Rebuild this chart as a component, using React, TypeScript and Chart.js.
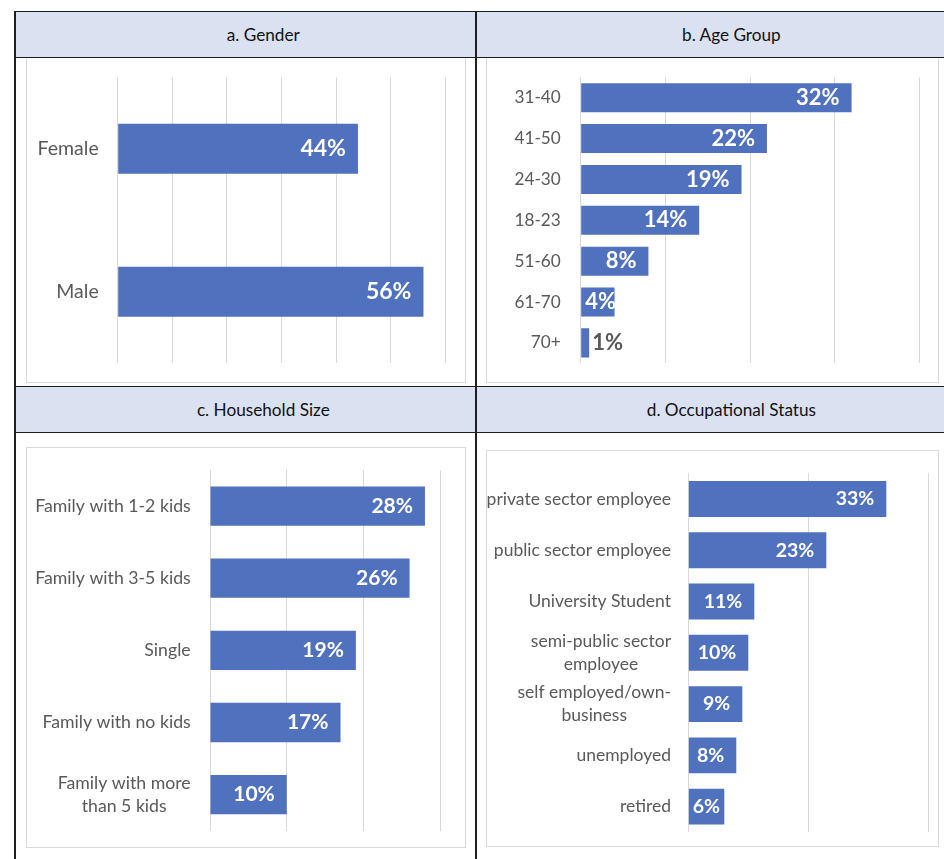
import React, { useEffect, useRef } from 'react';
import { Chart, registerables } from 'chart.js';

Chart.register(...registerables);

// ---------- data ----------
const genderLabels = ['Female', 'Male'];
const genderValues = [44, 56];
const genderAxisMax = 60;
const genderAxisStep = 10;

const ageLabels = ['31-40', '41-50', '24-30', '18-23', '51-60', '61-70', '70+'];
const ageValues = [32, 22, 19, 14, 8, 4, 1];
const ageAxisMax = 40;
const ageAxisStep = 10;

const householdLabels = [
  'Family with 1-2 kids',
  'Family with 3-5 kids',
  'Single',
  'Family with no kids',
  ['Family with more', 'than 5 kids'],
];
const householdValues = [28, 26, 19, 17, 10];
const householdAxisMax = 30;
const householdAxisStep = 10;

const occupationLabels = [
  'private sector employee',
  'public sector employee',
  'University Student',
  ['semi-public sector', 'employee'],
  ['self employed/own-', 'business'],
  'unemployed',
  'retired',
];
const occupationValues = [33, 23, 11, 10, 9, 8, 6];
const occupationAxisMax = 40;
const occupationAxisStep = 20;

const panelTitles = ['a. Gender', 'b. Age Group', 'c. Household Size', 'd. Occupational Status'];

// ---------- styles ----------
const FONT = 'Lato, "Open Sans", sans-serif';
const BAR_COLOR = '#4F71BE';
const GRID_COLOR = '#D9D9D9';
const LABEL_COLOR = '#595959';
const HEADER_BG = '#DAE2F2';
const LINE_COLOR = '#1f1f1f';

type PanelProps = {
  labels: (string | string[])[];
  values: number[];
  max: number;
  step: number;
  left: number;
  top: number;
  width: number;
  height: number;
  pad: { left: number; right: number; top: number; bottom: number };
  barPct: number;
  labelSize: number;
  valueSize: number;
  gap: number;
};

function ChartPanel(p: PanelProps) {
  const ref = useRef<HTMLCanvasElement | null>(null);
  useEffect(() => {
    const canvas = ref.current;
    if (!canvas) return;

    const categoryLabelPlugin = {
      id: 'categoryLabels',
      afterDraw(chart: any) {
        const { ctx, chartArea } = chart;
        const yScale = chart.scales.y;
        ctx.save();
        ctx.font = `${p.labelSize}px ${FONT}`;
        ctx.fillStyle = LABEL_COLOR;
        ctx.textBaseline = 'middle';
        const right = chartArea.left - p.gap;
        const lh = p.labelSize * 1.3;
        p.labels.forEach((lab, i) => {
          const y = yScale.getPixelForValue(i);
          if (Array.isArray(lab)) {
            const maxW = Math.max(...lab.map((l) => ctx.measureText(l).width));
            const cx = right - maxW / 2;
            ctx.textAlign = 'center';
            lab.forEach((l, j) => {
              ctx.fillText(l, cx, y + (j - (lab.length - 1) / 2) * lh);
            });
          } else {
            ctx.textAlign = 'right';
            ctx.fillText(lab, right, y);
          }
        });
        ctx.restore();
      },
    };

    const valueLabelPlugin = {
      id: 'valueLabels',
      afterDatasetsDraw(chart: any) {
        const { ctx } = chart;
        const meta = chart.getDatasetMeta(0);
        ctx.save();
        ctx.font = `bold ${p.valueSize}px ${FONT}`;
        ctx.textBaseline = 'middle';
        meta.data.forEach((bar: any, i: number) => {
          const text = `${p.values[i]}%`;
          const w = ctx.measureText(text).width;
          const { x, base, y } = bar.getProps(['x', 'base', 'y'], true);
          const bw = x - base;
          if (bw < w * 0.5) {
            ctx.fillStyle = LABEL_COLOR;
            ctx.textAlign = 'left';
            ctx.fillText(text, x + 3, y);
          } else if (bw < w + 16) {
            ctx.fillStyle = '#FFFFFF';
            ctx.textAlign = 'left';
            ctx.fillText(text, base + 4, y);
          } else {
            ctx.fillStyle = '#FFFFFF';
            ctx.textAlign = 'right';
            ctx.fillText(text, x - 12, y);
          }
        });
        ctx.restore();
      },
    };

    const chart = new Chart(canvas, {
      type: 'bar',
      data: {
        labels: p.labels as any,
        datasets: [
          {
            data: p.values,
            backgroundColor: BAR_COLOR,
            borderWidth: 0,
            barPercentage: p.barPct,
            categoryPercentage: 1,
          },
        ],
      },
      options: {
        indexAxis: 'y',
        responsive: false,
        animation: false,
        events: [],
        layout: { padding: p.pad },
        plugins: {
          legend: { display: false },
          tooltip: { enabled: false },
          title: { display: false },
        },
        scales: {
          x: {
            type: 'linear',
            min: 0,
            max: p.max,
            ticks: { display: false, stepSize: p.step },
            grid: { color: GRID_COLOR, lineWidth: 1, drawTicks: false },
            border: { display: false },
            afterFit: (s: any) => {
              s.height = 0;
            },
          },
          y: {
            type: 'category',
            ticks: { display: false },
            grid: { display: false, drawTicks: false },
            border: { display: false },
            afterFit: (s: any) => {
              s.width = 0;
            },
          },
        },
      },
      plugins: [valueLabelPlugin, categoryLabelPlugin],
    });
    return () => chart.destroy();
  }, []);

  return (
    <>
      <canvas
        ref={ref}
        width={p.width}
        height={p.height}
        style={{ position: 'absolute', left: p.left, top: p.top, width: p.width, height: p.height }}
      />
      <div
        style={{
          position: 'absolute',
          left: p.left,
          top: p.top,
          width: p.width - 2,
          height: p.height - 2,
          border: `1px solid ${GRID_COLOR}`,
          pointerEvents: 'none',
        }}
      />
    </>
  );
}

function HLine({ y, x1, x2 }: { y: number; x1: number; x2: number }) {
  return (
    <div style={{ position: 'absolute', left: x1, top: y - 0.75, width: x2 - x1, height: 1.5, background: LINE_COLOR }} />
  );
}
function VLine({ x, y1, y2 }: { x: number; y1: number; y2: number }) {
  return (
    <div style={{ position: 'absolute', left: x - 0.75, top: y1, width: 1.5, height: y2 - y1, background: LINE_COLOR }} />
  );
}

function Header({ text, cx, top, bottom, left, right }: any) {
  return (
    <>
      <div style={{ position: 'absolute', left, top, width: right - left, height: bottom - top, background: HEADER_BG }} />
      <div
        style={{
          position: 'absolute',
          left: cx - 200,
          width: 400,
          top,
          height: bottom - top,
          display: 'flex',
          alignItems: 'center',
          justifyContent: 'center',
          fontFamily: FONT,
          fontSize: 17.2,
          color: '#111',
          whiteSpace: 'nowrap',
        }}
      >
        {text}
      </div>
    </>
  );
}

export default function App() {
  return (
    <div style={{ position: 'absolute', left: 0, top: 0, width: 944, height: 859, background: '#fff', overflow: 'hidden' }}>
      <Header text={panelTitles[0]} cx={263.3} top={11.7} bottom={57.3} left={15} right={476} />
      <Header text={panelTitles[1]} cx={731.4} top={11.7} bottom={57.3} left={476} right={944} />
      <Header text={panelTitles[2]} cx={263.3} top={386.7} bottom={432.3} left={15} right={476} />
      <Header text={panelTitles[3]} cx={731.4} top={386.7} bottom={432.3} left={476} right={944} />

      <ChartPanel
        labels={genderLabels}
        values={genderValues}
        max={genderAxisMax}
        step={genderAxisStep}
        left={26}
        top={57}
        width={440}
        height={326}
        pad={{ left: 91.7, right: 20.7, top: 20.3, bottom: 19.7 }}
        barPct={0.35}
        labelSize={19.5}
        valueSize={23}
        gap={19}
      />
      <ChartPanel
        labels={ageLabels}
        values={ageValues}
        max={ageAxisMax}
        step={ageAxisStep}
        left={486}
        top={57}
        width={453}
        height={326}
        pad={{ left: 94.7, right: 19.7, top: 20.3, bottom: 19.7 }}
        barPct={0.71}
        labelSize={17.2}
        valueSize={22}
        gap={20}
      />
      <ChartPanel
        labels={householdLabels}
        values={householdValues}
        max={householdAxisMax}
        step={householdAxisStep}
        left={26}
        top={447}
        width={440}
        height={401}
        pad={{ left: 184, right: 25.7, top: 23, bottom: 17.3 }}
        barPct={0.545}
        labelSize={17.7}
        valueSize={21}
        gap={19.3}
      />
      <ChartPanel
        labels={occupationLabels}
        values={occupationValues}
        max={occupationAxisMax}
        step={occupationAxisStep}
        left={486}
        top={450}
        width={453}
        height={397}
        pad={{ left: 202.3, right: 10.7, top: 23.3, bottom: 14.7 }}
        barPct={0.7}
        labelSize={17.5}
        valueSize={19.5}
        gap={17.3}
      />

      <HLine y={11.7} x1={14.25} x2={944} />
      <HLine y={57.3} x1={14.25} x2={944} />
      <HLine y={386.7} x1={14.25} x2={944} />
      <HLine y={432.3} x1={14.25} x2={944} />
      <VLine x={15} y1={11} y2={859} />
      <VLine x={476} y1={11} y2={859} />
    </div>
  );
}
